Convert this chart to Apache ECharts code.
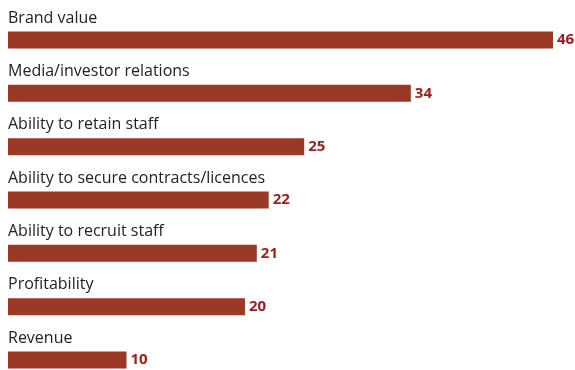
<!DOCTYPE html>
<html>
<head>
<meta charset="utf-8">
<script src="https://cdn.jsdelivr.net/npm/echarts@6/dist/echarts.min.js"></script>
<style>
  html, body { margin: 0; padding: 0; background: #ffffff; }
  #chart { width: 575px; height: 370px; }
</style>
</head>
<body>
<div id="chart"></div>
<script>
// Factors ranked by share of respondents
const categories = [
  'Brand value',
  'Media/investor relations',
  'Ability to retain staff',
  'Ability to secure contracts/licences',
  'Ability to recruit staff',
  'Profitability',
  'Revenue'
];
const values = [46, 34, 25, 22, 21, 20, 10];

const chart = echarts.init(document.getElementById('chart'));
chart.setOption({
  backgroundColor: '#ffffff',
  animation: false,
  // categories sit on the band edges so the first and last rows line up with the grid
  grid: { left: 8, top: 40, width: 545, height: 320, containLabel: false },
  xAxis: {
    type: 'value',
    min: 0,
    max: 46,
    show: false
  },
  yAxis: {
    type: 'category',
    data: categories,
    inverse: true,
    boundaryGap: false,
    axisLine: { show: false },
    axisTick: { show: false },
    splitLine: { show: false },
    axisLabel: {
      inside: true,
      margin: 0,
      verticalAlign: 'bottom',
      padding: [0, 0, 14, 0],
      color: '#222222',
      fontFamily: 'Open Sans',
      fontSize: 16
    }
  },
  series: [{
    type: 'bar',
    data: values,
    barWidth: 17,
    itemStyle: { color: '#9c3826' },
    label: {
      show: true,
      position: 'right',
      distance: 4,
      color: '#a41c1c',
      fontFamily: 'Open Sans',
      fontWeight: 'bold',
      fontSize: 15
    }
  }]
});
</script>
</body>
</html>
